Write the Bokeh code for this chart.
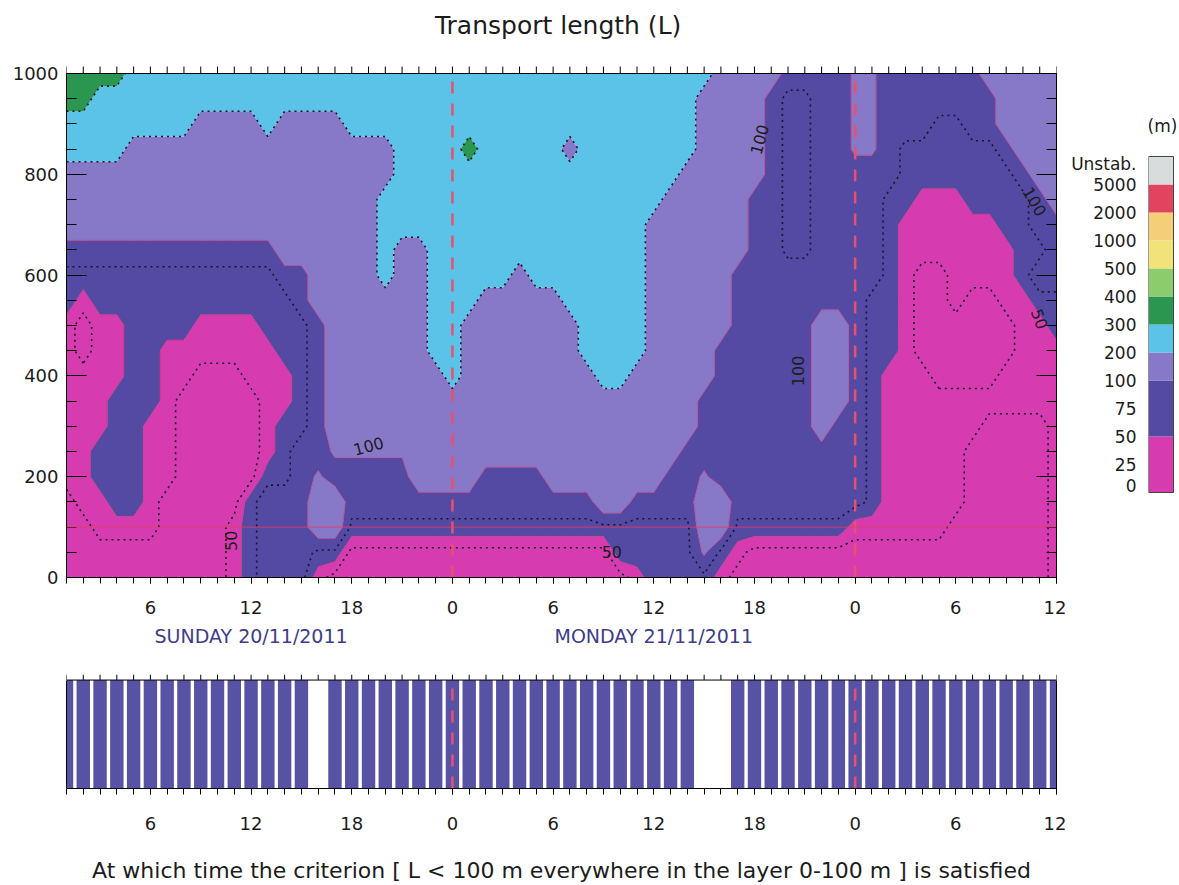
import numpy as np
from bokeh.plotting import figure
from bokeh.layouts import column, row
from bokeh.models import Range1d, LinearAxis, FixedTicker, Span
from bokeh.embed import file_html
from bokeh.resources import INLINE
from bokeh.core.properties import value

FONT = "DejaVu Sans"

# ---------------- data ----------------
hours = list(range(1, 61))            # hours since Sunday 20/11/2011 00:00
heights = list(range(0, 1001, 50))    # m above ground

# Transport-length class, one character per hour (1..60),
# one row per height, from 1000 m (top) down to 0 m (bottom).
L_class_rows = [
    "ggggcccccc" "cccccccccc" "cccccccccc" "cccccccccl" "lllBBBBLLB" "BBBBBlllll",  # 1000
    "ggcccccccc" "cccccccccc" "cccccccccc" "ccccccccll" "llBbbBBLLB" "BBBBBBllll",  # 950
    "ccccccccll" "llcllllccc" "cccccccccc" "ccccccccll" "llBbbBBLLB" "BBbbBBllll",  # 900
    "ccccllllll" "llllllllll" "ccccgccccc" "lcccccccll" "llBbbBBLLB" "bbbbbbBlll",  # 850
    "llllllllll" "llllllllll" "cccccccccc" "ccccccclll" "llBbbBBBBB" "bbbbbbbBll",  # 800
    "llllllllll" "lllllllllc" "cccccccccc" "ccccccllll" "lBBbbBBBBb" "bmmmbbbbBl",  # 750
    "llllllllll" "lllllllllc" "cccccccccc" "ccccclllll" "lBBbbBBBBb" "mmmmmmbbBB",  # 700
    "BBBBBBBBBB" "BBBllllllc" "llcccccccc" "ccccclllll" "lBBbbBBBBb" "mmmmmmmbbB",  # 650
    "bbbbbbbbbb" "bbbBBllllc" "llccccclcc" "ccccclllll" "BBBBBBBBBb" "mMMmmmmbBB",  # 600
    "bmbbbbbbbb" "bbbbBlllll" "llccclllll" "ccccclllll" "BBBBBBBBbb" "mMMmMMmmbb",  # 550
    "mMmmbbbbmm" "mmbbbBllll" "llccllllll" "lcccclllll" "BBBBBllBbb" "mMMMMMMmmb",  # 500
    "mMmmbbmmmm" "mmmbbBllll" "llccllllll" "lccccllllB" "BBBBBllBbb" "mMMMMMMmmm",  # 450
    "mmmmbbmmMM" "MmmmbBllll" "lllcllllll" "llcclllllB" "BBBBBllBbm" "mmMMMMmmmm",  # 400
    "mmmbbbmMMM" "MMmmbBllll" "llllllllll" "llllllllBB" "BBBBBllBbm" "mmmmmmmmmm",  # 350
    "mmmbbmmMMM" "MMmbbBllll" "llllllllll" "llllllllBB" "BBBBBlBBbm" "mmmmmMMMMm",  # 300
    "mmbbbmmMMM" "MMmbBBLLLL" "Llllllllll" "lllllllBBB" "BBBBBBBBbm" "mmmmMMMMMm",  # 250
    "mmbbbmmMMM" "MMbbBLBBBB" "BllllBBBBl" "llllllBBLB" "BBBBBBBBbm" "mmmmMMMMMm",  # 200
    "MmmbbmMMMM" "MbBBBllBBB" "BBBBBBBBBB" "BBllBBBBll" "BBBBBBBBbm" "mmmmMMMMMm",  # 150
    "MMmmmmMMMM" "mbBBBllbbb" "bbbbbbbbbb" "bbbbbbbbll" "bbbbbbbmmm" "mmmMMMMMMm",  # 100
    "MMMMMMMMMM" "mbBBBbbMMM" "MMMMMMMMMM" "MMMbbbbbLb" "mMMMMMMMMM" "MMMMMMMMMm",  # 50
    "MMMMMMMMMM" "mbBBBmMMMM" "MMMMMMMMMM" "MMMMmbbbbm" "MMMMMMMMMM" "MMMMMMMMMm",  # 0
]
# representative transport length (m) of each class
class_value = {"M": 15, "m": 35, "b": 70, "B": 85, "L": 105, "l": 125, "c": 275, "g": 325}

contour_levels = [0, 50, 100, 200, 300, 400, 500, 1000, 2000, 5000]
band_colors = ["#d63cb0", "#5449a3", "#8778c8", "#5bc3e8", "#2a9650",
               "#8ccc6c", "#f2e27a", "#f4cf78", "#e0445e"]
unstable_color = "#d8dcdc"
legend_labels = ["0", "25", "50", "75", "100", "200", "300", "400", "500",
                 "1000", "2000", "5000", "Unstab."]

midnights = [24, 48]
layer_top = 100
hour_ticks = [6, 12, 18, 24, 30, 36, 42, 48, 54, 60]
hour_tick_labels = ["6", "12", "18", "0", "6", "12", "18", "0", "6", "12"]
day_label_hours = [12, 36]
day_labels = ["SUNDAY 20/11/2011", "MONDAY 21/11/2011"]
height_ticks = [0, 200, 400, 600, 800, 1000]
height_minor = list(range(0, 1001, 50))

contour_label_text = ["100", "100", "50", "100", "100", "50", "50"]
contour_label_h = [42.3, 58.7, 59.0, 44.6, 19.0, 10.8, 33.5]
contour_label_z = [869, 746, 513, 410, 261, 73, 51]
contour_label_angle = [75, -60, -70, 90, 15, 90, 0]

title_text = "Transport length (L)"
strip_caption = "At which time the criterion [ L < 100 m everywhere in the layer 0-100 m ] is satisfied"

# 1 = criterion [L < 100 m everywhere in 0-100 m] satisfied at that hour
criterion_met = [1, 1, 1, 1, 1, 1, 1, 1, 1, 1,
                 1, 1, 1, 1, 1, 0, 1, 1, 1, 1,
                 1, 1, 1, 1, 1, 1, 1, 1, 1, 1,
                 1, 1, 1, 1, 1, 1, 1, 1, 0, 0,
                 1, 1, 1, 1, 1, 1, 1, 1, 1, 1,
                 1, 1, 1, 1, 1, 1, 1, 1, 1, 1]

# ---------------- field ----------------
Z = np.array([[class_value[ch] for ch in r] for r in L_class_rows[::-1]], dtype=float)

TXT = "#1c1c1c"
RED = "#e8506e"


def hour_axis(standoff=17):
    ax = LinearAxis(ticker=FixedTicker(ticks=hour_ticks, minor_ticks=hours))
    ax.major_tick_in = 0
    ax.major_tick_out = 6
    ax.minor_tick_in = 0
    ax.minor_tick_out = 6
    ax.axis_line_color = "black"
    ax.major_tick_line_color = "black"
    ax.minor_tick_line_color = "black"
    ax.major_label_text_font = FONT
    ax.major_label_text_color = TXT
    ax.major_label_overrides = {t: l for t, l in zip(hour_ticks, hour_tick_labels)}
    ax.major_label_text_font_size = "18px"
    ax.major_label_standoff = standoff
    return ax


def height_axis(show_labels=True):
    ax = LinearAxis(ticker=FixedTicker(ticks=height_ticks, minor_ticks=height_minor),
                    bounds=(heights[0], heights[-1]))
    ax.major_tick_in = 20
    ax.major_tick_out = 0
    ax.minor_tick_in = 10
    ax.minor_tick_out = 0
    ax.axis_line_color = "black"
    ax.major_tick_line_color = "black"
    ax.minor_tick_line_color = "black"
    ax.major_label_text_font = FONT
    ax.major_label_text_color = TXT
    if show_labels:
        ax.major_label_text_font_size = "18px"
        ax.major_label_standoff = 8
    else:
        ax.major_label_overrides = {t: "" for t in height_ticks}
        ax.major_label_text_font_size = "10px"
        ax.major_label_standoff = 0
    return ax


# page geometry (pixels)
PLOT_TOP_PX, PLOT_BOTTOM_PX = 73, 577
FRAME_TOP_PX = 10                 # frame extended upward to hold the title and top ticks
TICK_PX = 7
TOP, BOTTOM = FRAME_TOP_PX, 655 - PLOT_BOTTOM_PX
Z_PER_PX = 1000 / (PLOT_BOTTOM_PX - PLOT_TOP_PX)
z_top = heights[-1] + (PLOT_TOP_PX - FRAME_TOP_PX) * Z_PER_PX
z_tick = heights[-1] + TICK_PX * Z_PER_PX
z_title = heights[-1] + (PLOT_TOP_PX - 25) * Z_PER_PX
h_title = 30.3

# ---------------- main contour figure ----------------
p = figure(width=1066, height=655, x_range=Range1d(hours[0], hours[-1]),
           y_range=Range1d(heights[0], z_top),
           output_backend="svg", toolbar_location=None,
           x_axis_location=None, y_axis_location=None,
           min_border_left=66, min_border_right=10, min_border_top=TOP, min_border_bottom=BOTTOM)
p.grid.visible = False
p.outline_line_color = None
p.background_fill_color = "white"

p.contour(hours, heights, Z, levels=contour_levels, fill_color=band_colors)
p.contour(hours, heights, Z, levels=[50, 100], line_color="#b8387c", line_width=0.9, line_alpha=0.8)
p.contour(hours, heights, Z, levels=[25, 75, 200, 300], line_color="#15152a",
          line_width=1.6, line_dash="2 4")

p.text(x=contour_label_h, y=contour_label_z, text=contour_label_text,
       angle=contour_label_angle, angle_units="deg", text_font=value(FONT),
       text_font_size="16px", text_align="center", text_baseline="middle", text_color=TXT)

p.segment(x0=midnights, x1=midnights, y0=heights[0], y1=heights[-1], line_color=RED,
          line_width=2.5, line_dash="12 10")
p.add_layout(Span(location=layer_top, dimension="width", line_color="#e04060",
                  line_width=1, line_alpha=0.85))
# top edge of the plot and its outward hourly ticks
p.segment(x0=hours[0], x1=hours[-1], y0=heights[-1], y1=heights[-1], line_color="black", line_width=1)
p.segment(x0=hours, x1=hours, y0=heights[-1], y1=z_tick, line_color="black", line_width=1)
# title
p.text(x=[h_title], y=[z_title], text=[title_text], text_font=value(FONT), text_font_size="25px",
       text_align="center", text_baseline="middle", text_color=TXT)

p.add_layout(height_axis(True), "left")
p.add_layout(height_axis(False), "right")
p.add_layout(hour_axis(17), "below")

day_ax = LinearAxis(ticker=FixedTicker(ticks=day_label_hours, minor_ticks=[]))
day_ax.major_label_overrides = {t: l for t, l in zip(day_label_hours, day_labels)}
day_ax.axis_line_color = None
day_ax.major_tick_line_color = None
day_ax.minor_tick_line_color = None
day_ax.major_label_text_font = FONT
day_ax.major_label_text_font_size = "19px"
day_ax.major_label_text_color = "#3d3d8a"
day_ax.major_label_standoff = 2
p.add_layout(day_ax, "below")

# ---------------- colour bar (same frame rows as the main plot) ----------------
band_units = [8, 8, 4, 4, 4, 4, 4, 4, 4, 4]          # 0-50 and 50-100 span two label steps
cb_colors = band_colors + [unstable_color]
cb_bottom = list(np.cumsum([0] + band_units[:-1]))
cb_top = list(np.cumsum(band_units))
label_pos = [1, 4, 8, 12, 16, 20, 24, 28, 32, 36, 40, 44, 47]
PX = 7.0   # pixels per colour-bar unit
cb_y0 = -(PLOT_BOTTOM_PX - 492) / PX
cb_y1 = (492 - FRAME_TOP_PX) / PX

cb = figure(width=112, height=655, x_range=Range1d(0, 28 / 25), y_range=Range1d(cb_y0, cb_y1),
            output_backend="svg", toolbar_location=None,
            x_axis_location=None, y_axis_location=None,
            min_border_left=82, min_border_right=2, min_border_top=TOP, min_border_bottom=BOTTOM)
cb.grid.visible = False
cb.outline_line_color = None
cb.quad(left=0, right=1, bottom=cb_bottom, top=cb_top, fill_color=cb_colors, line_color=None)
cb.quad(left=0, right=1, bottom=0, top=sum(band_units), fill_color=None, line_color="#444444",
        line_width=1)
cb.text(x=[0.56], y=[(492 - 125) / PX], text=["(m)"], text_font=value(FONT),
        text_font_size="17px", text_align="center", text_baseline="middle", text_color=TXT)
cax = LinearAxis(ticker=FixedTicker(ticks=label_pos, minor_ticks=[]))
cax.major_label_overrides = {t: l for t, l in zip(label_pos, legend_labels)}
cax.axis_line_color = None
cax.major_tick_line_color = None
cax.minor_tick_line_color = None
cax.major_label_text_font = FONT
cax.major_label_text_font_size = "17px"
cax.major_label_text_color = TXT
cax.major_label_standoff = 6
cb.add_layout(cax, "left")

# ---------------- criterion strip ----------------
met_hours = [h for h, ok in zip(hours, criterion_met) if ok]
STRIP_TICK = 6
s_top = 1 + STRIP_TICK / 117
s = figure(width=1066, height=230, x_range=Range1d(hours[0], hours[-1]), y_range=Range1d(0, s_top),
           output_backend="svg", toolbar_location=None,
           x_axis_location=None, y_axis_location=None,
           min_border_left=66, min_border_right=10, min_border_top=25 - STRIP_TICK,
           min_border_bottom=88)
s.grid.visible = False
s.outline_line_color = None
s.vbar(x=met_hours, width=0.8, bottom=0, top=1, fill_color="#5852a5", line_color=None)
s.segment(x0=midnights, x1=midnights, y0=0, y1=1, line_color=RED, line_width=2.5, line_dash="12 10")
s.segment(x0=hours[0], x1=hours[-1], y0=1, y1=1, line_color="black", line_width=1)
s.segment(x0=hours, x1=hours, y0=1, y1=s_top, line_color="black", line_width=1)
for side in ("left", "right"):
    edge = LinearAxis(ticker=FixedTicker(ticks=[], minor_ticks=[]), bounds=(0, 1))
    edge.axis_line_color = "black"
    edge.major_tick_line_color = None
    edge.minor_tick_line_color = None
    edge.major_label_text_font_size = "10px"
    s.add_layout(edge, side)
sax = hour_axis(22)
sax.axis_label = strip_caption
sax.axis_label_text_font = FONT
sax.axis_label_text_font_size = "22px"
sax.axis_label_text_font_style = "normal"
sax.axis_label_text_color = TXT
sax.axis_label_standoff = 25
s.add_layout(sax, "below")

layout = column(row(p, cb), s)
open("out.html", "w").write(file_html(layout, INLINE))
